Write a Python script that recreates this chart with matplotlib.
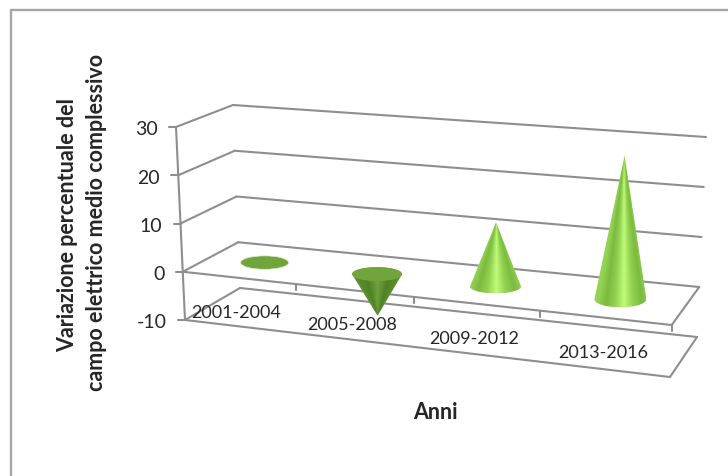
import numpy as np
import matplotlib
matplotlib.use("Agg")
import matplotlib.pyplot as plt
from matplotlib.colors import LinearSegmentedColormap
from matplotlib.patches import Ellipse, Polygon

plt.rcParams["font.family"] = ["Lato", "DejaVu Sans"]

# Data
periods = ["2001-2004", "2005-2008", "2009-2012", "2013-2016"]
variation = [0.1, -8.6, 13.0, 28.5]
value_ticks = [-10, 0, 10, 20, 30]
y_title = ["Variazione percentuale del", "campo elettrico medio complessivo"]
x_title = "Anni"

# Pixel positions of the eight corners of the 3D box: (side, depth, level)
BOX = {
    (0, 0, -10): (185, 321), (0, 0, 30): (176, 128),
    (0, 1, -10): (240, 289), (0, 1, 30): (233, 106),
    (1, 1, -10): (697, 338), (1, 1, 30): (706, 138),
    (1, 0, -10): (670, 378), (1, 0, 30): (677, 170),
}
FORESHORTEN = 0.9
GREY = "#8e8e8e"
TEXT = "#262626"

# Half-axes of each cone's elliptical base, in pixels
base_half_width = [24, 25, 25.5, 26]
base_half_height = [6.7, 7, 7, 8]


def project(pos, value, depth):
    """Map category position, value and depth (0 front, 1 back) to pixels."""
    s = pos / len(periods)
    t = FORESHORTEN * s / (1 + (FORESHORTEN - 1) * s)
    v = (value + 10) / 40
    out = np.zeros(2)
    for a, wa in ((0, 1 - t), (1, t)):
        for b, wb in ((0, 1 - depth), (1, depth)):
            for c, wc in ((-10, 1 - v), (30, v)):
                out += wa * wb * wc * np.array(BOX[(a, b, c)], float)
    return out


fig = plt.figure(figsize=(7.28, 4.77), dpi=100, facecolor="white")
ax = fig.add_axes([0, 0, 1, 1])
ax.set_axis_off()


def segment(p, q, lw=1.5):
    ax.plot([p[0], q[0]], [p[1], q[1]], color=GREY, lw=lw,
            solid_capstyle="round", zorder=1)


# Chart frame
ax.plot([11, 11, 728], [477, 10.5, 10.5], color="#a6a6a6", lw=1.7, zorder=1)

n = len(periods)

# Back wall and side wall gridlines, with the value scale on the left
for v in value_ticks:
    segment(project(0, v, 1), project(n, v, 1))
    segment(project(0, v, 0), project(0, v, 1))
    corner = project(0, v, 0)
    segment(corner + np.array([-7, 0]), corner)
    ax.text(corner[0] - 18, corner[1] + 2, str(v), ha="right", va="center",
            fontsize=14, color=TEXT)

# Vertical axis
segment(project(0, -10, 0), project(0, 30, 0))

# Floor at zero and the label plate below it
for v in (0, -10):
    segment(project(0, v, 0), project(n, v, 0))
    segment(project(n, v, 0), project(n, v, 1))

# Category ticks on the front edge of the floor
for i in range(1, n + 1):
    p = project(i, 0, 0)
    segment(p, p + np.array([0, 6]))

# Category labels sit under the front edge
for i, name in enumerate(periods):
    p = project(i + 0.5, 0, 0)
    ax.text(p[0] - 2, p[1] + 34, name, ha="center", va="center",
            fontsize=13, color=TEXT, zorder=5)

rising = LinearSegmentedColormap.from_list(
    "rising", ["#93d453", "#7cba40", "#92d250", "#c0fb7a", "#92d250", "#7cba40", "#93d453"])
falling = LinearSegmentedColormap.from_list(
    "falling", ["#5d8f2e", "#4f8128", "#6ea13a", "#4f8128", "#5d8f2e"])

for i, value in enumerate(variation):
    base = project(i + 0.5, 0, 0.5)
    tip = project(i + 0.5, value, 0.5)
    rx, ry = base_half_width[i], base_half_height[i]

    if abs(value) < 0.5:
        ax.add_patch(Ellipse(base, 2 * rx, 2 * ry, fc="#6fa53a", ec="#dcebcb",
                             lw=0.5, zorder=3))
        continue

    # Outline: the tip plus the visible half of the base rim
    theta = np.linspace(0, np.pi, 80)
    bulge = 1 if value > 0 else -1
    rim = np.column_stack([base[0] + rx * np.cos(theta),
                           base[1] + bulge * ry * np.sin(theta)])
    body = np.vstack([tip, rim])

    # Shading follows the cone surface: each row spans the cone's local width
    left, right = base[0] - rx, base[0] + rx
    top, bottom = body[:, 1].min(), body[:, 1].max()
    X, Y = np.meshgrid(np.linspace(left, right, 300), np.linspace(top, bottom, 400))
    spread = np.clip((Y - tip[1]) / (base[1] - tip[1]), 0.01, None)
    surface = np.clip((X - tip[0]) / (rx * spread), -1, 1) / 2 + 0.5
    image = ax.imshow(surface, cmap=rising if value > 0 else falling, aspect="auto",
                      vmin=0, vmax=1, extent=[left, right, bottom, top],
                      origin="upper", zorder=3)
    clip = Polygon(body, closed=True, transform=ax.transData, fc="none", ec="none")
    ax.add_patch(clip)
    image.set_clip_path(clip)

    if value < 0:
        ax.add_patch(Ellipse(base, 2 * rx, 2 * ry, fc="#6fa53a", ec="none", zorder=4))

# Axis titles
ax.text(68, 225, y_title[0], rotation=90, ha="center", va="center",
        fontsize=15.5, fontweight="bold", color=TEXT)
ax.text(97, 222, y_title[1], rotation=90, ha="center", va="center",
        fontsize=15.5, fontweight="bold", color=TEXT)
ax.text(435, 413, x_title, ha="center", va="center", fontsize=15.5,
        fontweight="bold", color=TEXT)

ax.set_xlim(0, 728)
ax.set_ylim(477, 0)
fig.savefig("out.png", dpi=100, facecolor="white")
